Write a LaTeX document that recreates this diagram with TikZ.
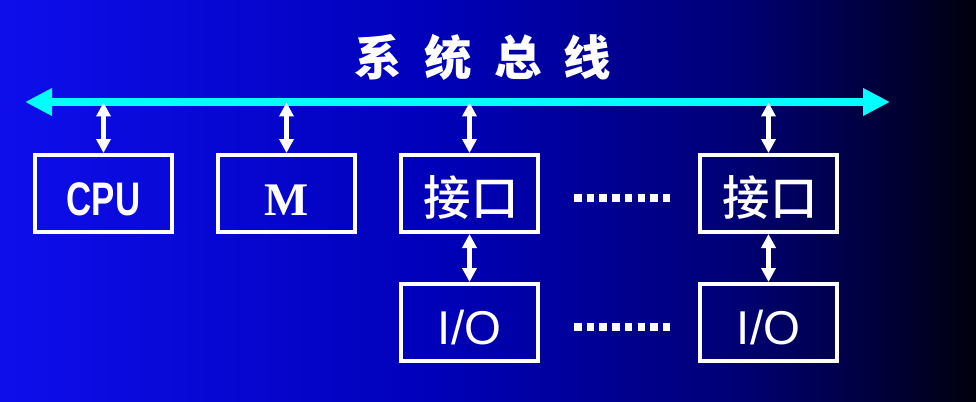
\documentclass[tikz,border=0pt]{standalone}
\usepackage{fontspec}
\usepackage{tikz}
\usetikzlibrary{positioning, arrows.meta}
\setmainfont{Liberation Sans}
\newfontfamily\cjkfont{Noto Sans CJK SC}
\newfontfamily\cjkmedium{Noto Sans CJK SC}[UprightFont={* Medium}]
\newfontfamily\narrowfont{Liberation Sans}[FakeStretch=0.74]
\newfontfamily\serifbold{Liberation Serif}
\newcommand\titlegap{\spaceskip=0.47em\relax}

\definecolor{bgA}{RGB}{14,14,236}
\definecolor{bgB}{RGB}{0,0,185}
\definecolor{bgC}{RGB}{0,0,118}
\definecolor{bgD}{RGB}{0,0,60}
\definecolor{bgE}{RGB}{0,0,12}
\definecolor{buscyan}{RGB}{0,255,255}
\pgfdeclarehorizontalshading{slideshade}{100bp}{color(0bp)=(bgA); color(25bp)=(bgA);
  color(47.5bp)=(bgB); color(62.5bp)=(bgC); color(70bp)=(bgD); color(75bp)=(bgE); color(100bp)=(bgE)}

\begin{document}
\begin{tikzpicture}[
    box/.style={draw=white, line width=0.04cm, minimum width=1.37cm, minimum height=0.77cm,
        text height=0.43cm, text depth=0cm, text=white, font=\fontsize{13.5}{16}\selectfont},
    bus/.style={buscyan, line width=0.085cm, {Triangle[width=0.26cm,length=0.27cm]}-{Triangle[width=0.26cm,length=0.27cm]}},
    link/.style={white, line width=0.045cm, {Triangle[width=0.14cm,length=0.14cm]}-{Triangle[width=0.14cm,length=0.14cm]}},
    dots/.style={white, line width=0.075cm, dash pattern=on 0.075cm off 0.052cm}
]
    % background and bounding box
    \shade[shading=slideshade] (0,0) rectangle (9.76,4.01);

    % the bus
    \coordinate (busL) at (0.25,2.99);
    \coordinate (busR) at (8.90,2.99);
    \draw[bus] (busL) -- (busR);
    \node[text=white, font=\cjkfont\bfseries\fontsize{13.5}{16}\selectfont] (title) at (4.83,3.435) {\titlegap 系 统 总 线};

    % units on the bus
    \node[box, font=\narrowfont\bfseries\fontsize{13.4}{16}\selectfont] (cpu) at (1.035,2.075) {CPU};
    \node[box, font=\serifbold\bfseries\fontsize{13.3}{16}\selectfont, right=0.42cm of cpu] (mem) {M};
    \node[box, font=\cjkmedium\fontsize{13.5}{16}\selectfont, right=0.42cm of mem] (if1) {\hspace{0.03cm}接口};
    \node[box, font=\cjkmedium\fontsize{13.5}{16}\selectfont, right=1.58cm of if1] (if2) {\hspace{0.03cm}接口};
    \node[box, below=0.48cm of if1] (io1) {I/O};
    \node[box, below=0.48cm of if2] (io2) {I/O};

    \path[link, shorten >=0.005cm]
        (cpu.north) edge (cpu.north |- busL)
        (mem.north) edge (mem.north |- busL)
        (if1.north) edge (if1.north |- busL)
        (if2.north) edge (if2.north |- busL);
    \path[link]
        (if1.south) edge (io1.north)
        (if2.south) edge (io2.north);

    \draw[dots, shorten <=0.34cm, shorten >=0.25cm] ([yshift=-0.045cm]if1.east) -- ([yshift=-0.045cm]if2.west);
    \draw[dots, shorten <=0.34cm, shorten >=0.25cm] ([yshift=-0.045cm]io1.east) -- ([yshift=-0.045cm]io2.west);
\end{tikzpicture}
\end{document}
